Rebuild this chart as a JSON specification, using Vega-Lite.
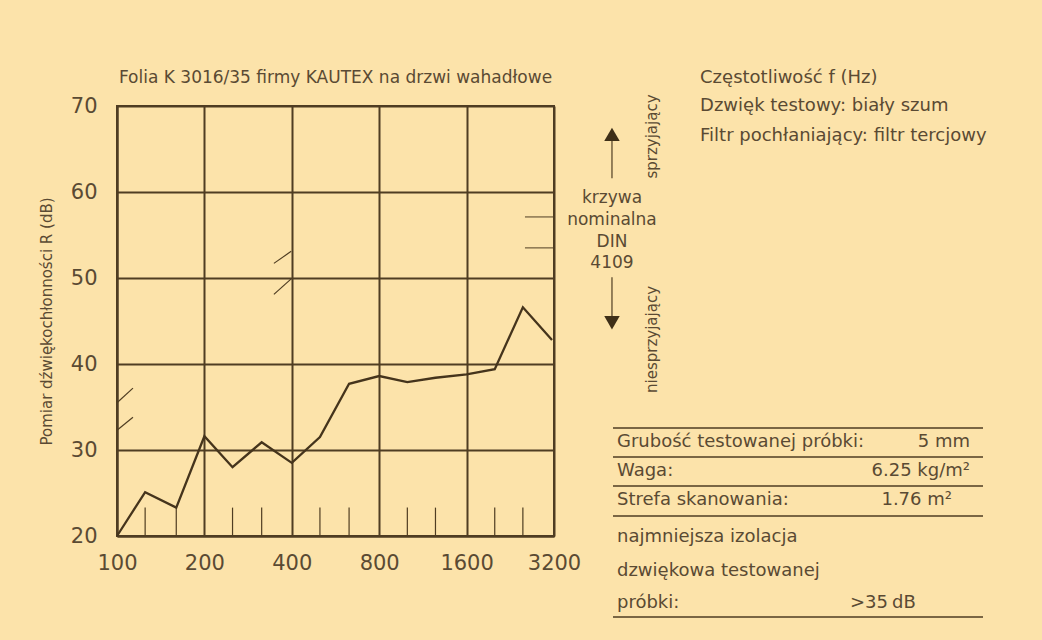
{
  "$schema": "https://vega.github.io/schema/vega-lite/v6.json",
  "width": 437,
  "height": 430,
  "autosize": {"type": "none"},
  "padding": {"left": 117, "top": 106, "right": 488, "bottom": 104},
  "background": "#FCE3AA",
  "config": {
    "view": {"stroke": "#4f3d22", "strokeWidth": 2},
    "font": "DejaVu Sans",
    "text": {"font": "DejaVu Sans", "color": "#5a4a33"}
  },
  "datasets": {
    "curve": [
      {"f": 100, "R": 20.0},
      {"f": 125, "R": 25.1},
      {"f": 160, "R": 23.3},
      {"f": 200, "R": 31.6},
      {"f": 250, "R": 28.0},
      {"f": 315, "R": 30.9},
      {"f": 400, "R": 28.5},
      {"f": 500, "R": 31.5},
      {"f": 630, "R": 37.7},
      {"f": 800, "R": 38.6},
      {"f": 1000, "R": 37.9},
      {"f": 1250, "R": 38.4},
      {"f": 1600, "R": 38.8},
      {"f": 2000, "R": 39.4},
      {"f": 2500, "R": 46.6},
      {"f": 3150, "R": 42.8}
    ],
    "ticks": [
      {"f": 125, "R": 20, "R2": 23.3},
      {"f": 160, "R": 20, "R2": 23.3},
      {"f": 250, "R": 20, "R2": 23.3},
      {"f": 315, "R": 20, "R2": 23.3},
      {"f": 500, "R": 20, "R2": 23.3},
      {"f": 630, "R": 20, "R2": 23.3},
      {"f": 1000, "R": 20, "R2": 23.3},
      {"f": 1250, "R": 20, "R2": 23.3},
      {"f": 2000, "R": 20, "R2": 23.3},
      {"f": 2500, "R": 20, "R2": 23.3}
    ],
    "slashes": [
      {"f": 100, "f2": 113.5, "R": 32.3, "R2": 33.8},
      {"f": 100, "f2": 113.5, "R": 35.5, "R2": 37.2},
      {"f": 347, "f2": 398, "R": 48.1, "R2": 49.9},
      {"f": 347, "f2": 398, "R": 51.7, "R2": 53.1}
    ],
    "din": [
      {"f": 2542, "f2": 3200, "R": 57.1},
      {"f": 2542, "f2": 3200, "R": 53.5}
    ],
    "arrows": [
      {"f": 5068, "R": 61.6, "R2": 66.3},
      {"f": 5068, "R": 45.3, "R2": 50.1}
    ],
    "heads": [
      {"f": 5068, "R": 66.7, "dir": "up"},
      {"f": 5068, "R": 44.8, "dir": "down"}
    ],
    "heading": [
      {"f": 565.7, "R": 73.3, "label": "Folia K 3016/35 firmy KAUTEX na drzwi wahadłowe"}
    ],
    "dinText": [
      {"f": 5068, "R": 59.3, "label": "krzywa"},
      {"f": 5068, "R": 56.74, "label": "nominalna"},
      {"f": 5068, "R": 54.19, "label": "DIN"},
      {"f": 5068, "R": 51.74, "label": "4109"}
    ],
    "sideText": [
      {"f": 6961, "R": 66.45, "label": "sprzyjający"},
      {"f": 6961, "R": 42.85, "label": "niesprzyjający"}
    ],
    "info": [
      {"f": 10190, "R": 73.26, "label": "Częstotliwość f (Hz)"},
      {"f": 10190, "R": 70.0, "label": "Dzwięk testowy: biały szum"},
      {"f": 10190, "R": 66.5, "label": "Filtr pochłaniający: filtr tercjowy"}
    ],
    "tableLines": [
      {"f": 5108, "f2": 96100, "R": 32.56},
      {"f": 5108, "f2": 96100, "R": 29.19},
      {"f": 5108, "f2": 96100, "R": 25.81},
      {"f": 5108, "f2": 96100, "R": 22.33},
      {"f": 5108, "f2": 96100, "R": 10.58}
    ],
    "tableLeft": [
      {"f": 5274, "R": 30.93, "label": "Grubość testowanej próbki:"},
      {"f": 5274, "R": 27.56, "label": "Waga:"},
      {"f": 5274, "R": 24.19, "label": "Strefa skanowania:"},
      {"f": 5274, "R": 19.88, "label": "najmniejsza izolacja"},
      {"f": 5274, "R": 15.93, "label": "dzwiękowa testowanej"},
      {"f": 5274, "R": 12.21, "label": "próbki:"},
      {"f": 33470, "R": 12.21, "label": ">35"},
      {"f": 46700, "R": 12.21, "label": "dB"}
    ],
    "tableRight": [
      {"f": 86690, "R": 30.93, "label": "5 mm"},
      {"f": 86690, "R": 27.56, "label": "6.25 kg/m²"},
      {"f": 75150, "R": 24.19, "label": "1.76 m²"}
    ]
  },
  "encoding": {
    "x": {
      "field": "f",
      "type": "quantitative",
      "scale": {"type": "log", "domain": [100, 3200], "nice": false},
      "axis": {
        "title": null,
        "values": [100, 200, 400, 800, 1600, 3200],
        "format": "d",
        "grid": true,
        "gridColor": "#4f3d22",
        "gridWidth": 2,
        "gridOpacity": 1,
        "domainColor": "#4f3d22",
        "domainWidth": 2,
        "ticks": false,
        "labelFont": "DejaVu Sans",
        "labelFontSize": 21,
        "labelColor": "#5a4a33",
        "labelBaseline": "middle",
        "labelPadding": 27,
        "labelFlush": false,
        "labelOverlap": false
      }
    },
    "y": {
      "field": "R",
      "type": "quantitative",
      "scale": {"domain": [20, 70], "nice": false, "zero": false},
      "axis": {
        "title": "Pomiar dźwiękochłonności R (dB)",
        "values": [20, 30, 40, 50, 60, 70],
        "grid": true,
        "gridColor": "#4f3d22",
        "gridWidth": 2,
        "gridOpacity": 1,
        "domainColor": "#4f3d22",
        "domainWidth": 2,
        "ticks": false,
        "labelFont": "DejaVu Sans",
        "labelFontSize": 21,
        "labelColor": "#5a4a33",
        "labelPadding": 20,
        "titleFont": "DejaVu Sans",
        "titleFontSize": 15,
        "titleFontWeight": "normal",
        "titleColor": "#5a4a33",
        "titlePadding": 16
      }
    }
  },
  "layer": [
    {
      "data": {"name": "ticks"},
      "mark": {"type": "rule", "color": "#4f3d22", "strokeWidth": 1.2},
      "encoding": {"y2": {"field": "R2"}}
    },
    {
      "data": {"name": "slashes"},
      "mark": {"type": "rule", "color": "#4f3d22", "strokeWidth": 1.2},
      "encoding": {"x2": {"field": "f2"}, "y2": {"field": "R2"}}
    },
    {
      "data": {"name": "din"},
      "mark": {"type": "rule", "color": "#4f3d22", "strokeWidth": 1},
      "encoding": {"x2": {"field": "f2"}}
    },
    {
      "data": {"name": "curve"},
      "mark": {"type": "line", "color": "#45341c", "strokeWidth": 2.3, "strokeJoin": "miter"}
    },
    {
      "data": {"name": "arrows"},
      "mark": {"type": "rule", "color": "#4f3d22", "strokeWidth": 1.2},
      "encoding": {"y2": {"field": "R2"}}
    },
    {
      "data": {"name": "heads"},
      "mark": {"type": "point", "filled": true, "color": "#3e2f18", "size": 240, "opacity": 1},
      "encoding": {
        "shape": {"field": "dir", "type": "nominal", "scale": {"domain": ["up", "down"], "range": ["triangle-up", "triangle-down"]}, "legend": null}
      }
    },
    {
      "data": {"name": "heading"},
      "mark": {"type": "text", "fontSize": 17, "align": "center", "baseline": "middle"},
      "encoding": {"text": {"field": "label"}}
    },
    {
      "data": {"name": "dinText"},
      "mark": {"type": "text", "fontSize": 17, "align": "center", "baseline": "middle"},
      "encoding": {"text": {"field": "label"}}
    },
    {
      "data": {"name": "sideText"},
      "mark": {"type": "text", "fontSize": 15, "angle": 270, "align": "center", "baseline": "middle"},
      "encoding": {"text": {"field": "label"}}
    },
    {
      "data": {"name": "info"},
      "mark": {"type": "text", "fontSize": 18, "align": "left", "baseline": "middle"},
      "encoding": {"text": {"field": "label"}}
    },
    {
      "data": {"name": "tableLines"},
      "mark": {"type": "rule", "color": "#4f3d22", "strokeWidth": 1.5},
      "encoding": {"x2": {"field": "f2"}}
    },
    {
      "data": {"name": "tableLeft"},
      "mark": {"type": "text", "fontSize": 18, "align": "left", "baseline": "middle"},
      "encoding": {"text": {"field": "label"}}
    },
    {
      "data": {"name": "tableRight"},
      "mark": {"type": "text", "fontSize": 18, "align": "right", "baseline": "middle"},
      "encoding": {"text": {"field": "label"}}
    }
  ]
}
